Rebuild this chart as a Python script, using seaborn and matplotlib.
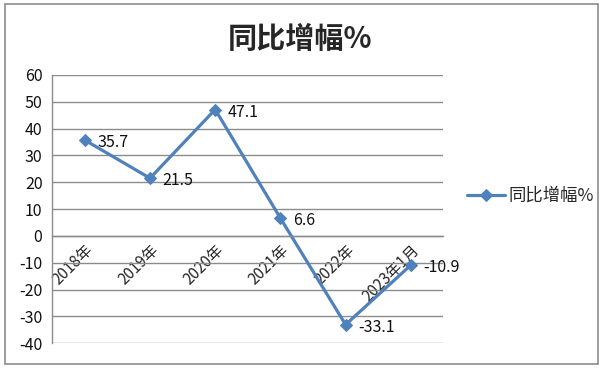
import matplotlib
matplotlib.use('Agg')
import matplotlib.pyplot as plt
from matplotlib.patches import Rectangle
from matplotlib.ticker import FixedLocator
import seaborn as sns
import pandas as pd

categories = ['2018年', '2019年', '2020年', '2021年', '2022年', '2023年1月']
growth = [35.7, 21.5, 47.1, 6.6, -33.1, -10.9]
series_name = '同比增幅%'
title = '同比增幅%'

sns.set_style('white')
plt.rcParams['font.family'] = ['Noto Sans CJK SC', 'DejaVu Sans']
plt.rcParams['axes.unicode_minus'] = False

df = pd.DataFrame({'pos': range(len(categories)), 'value': growth})

fig = plt.figure(figsize=(6, 3.69), dpi=100)
ax = fig.add_axes([0.087, 0.07, 0.652, 0.727])

blue = '#4F81BD'
sns.lineplot(data=df, x='pos', y='value', ax=ax, color=blue, linewidth=2.3,
             marker='D', markersize=6.5, markeredgecolor=blue, label=series_name)

# data labels
for x, v in zip(df['pos'], df['value']):
    ax.annotate(f'{v}', (x, v), xytext=(9, -2), textcoords='offset points',
                ha='left', va='center', fontsize=11.5, color='#111111')

ax.set_xlim(-0.5, len(categories) - 0.5)
ax.set_ylim(-40, 60)
ax.set_yticks(range(-40, 61, 10))
ax.yaxis.grid(True, color='#8c8c8c', linewidth=1)
ax.set_axisbelow(True)

# category axis crosses at zero
ax.spines['bottom'].set_position(('data', 0))
for s in ['top', 'right']:
    ax.spines[s].set_visible(False)
for s in ['left', 'bottom']:
    ax.spines[s].set_color('#8c8c8c')
    ax.spines[s].set_linewidth(1)

ax.set_xticks(df['pos'])
ax.set_xticklabels(categories, rotation=45, ha='right', va='top',
                   rotation_mode='anchor', fontsize=11)
ax.xaxis.set_minor_locator(FixedLocator([i - 0.5 for i in range(len(categories) + 1)]))
ax.tick_params(axis='x', which='major', length=0, pad=4)
ax.tick_params(axis='x', which='minor', length=5, direction='out', color='#8c8c8c')
ax.tick_params(axis='y', length=5, direction='out', color='#8c8c8c', labelsize=11.5, pad=2,
               labelcolor='#111111')
ax.set_xlabel('')
ax.set_ylabel('')

ax.legend(loc='center left', bbox_to_anchor=(1.02, 0.55), frameon=False,
          fontsize=12.5, handlelength=2.2, handletextpad=0.2)

fig.text(0.5, 0.895, title, ha='center', va='center', fontsize=21, fontweight='bold')

fig.patches.append(Rectangle((0.009, 0.013), 0.988, 0.977, transform=fig.transFigure,
                             fill=False, edgecolor='#8c8c8c', linewidth=1.2))

fig.savefig('out.png', dpi=100)
